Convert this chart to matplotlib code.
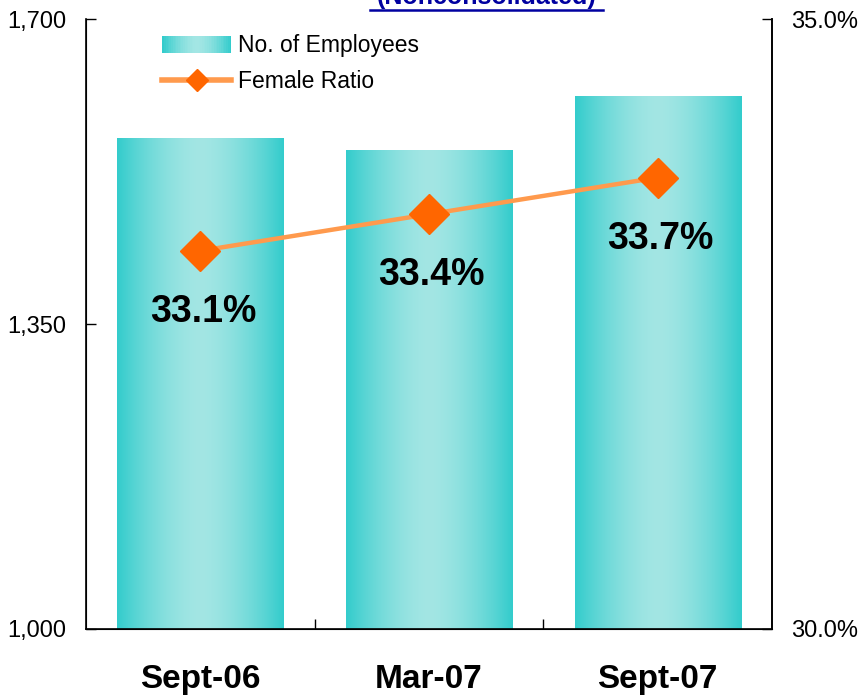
# Employees and female ratio (nonconsolidated)

import numpy as np
import matplotlib
matplotlib.use('Agg')
import matplotlib.pyplot as plt
from matplotlib.patches import Rectangle
from matplotlib.lines import Line2D
from matplotlib.legend_handler import HandlerBase
from matplotlib.ticker import FuncFormatter

plt.rcParams['font.family'] = ['Liberation Sans', 'DejaVu Sans']

# data
periods = ['Sept-06', 'Mar-07', 'Sept-07']
employees = [1563, 1550, 1612]
female_ratio = [33.1, 33.4, 33.7]
left_ticks = [1000, 1350, 1700]
right_ticks = [30.0, 35.0]

edge_col = np.array([51, 204, 204]) / 255
mid_col = np.array([163, 230, 228]) / 255


def gradient_row(n=200):
    t = np.linspace(0, 1, n)
    f = np.clip(1 - np.abs(2 * t - 1) ** 1.6, 0, 1)
    return edge_col[None, :] + (mid_col - edge_col)[None, :] * f[:, None]


class GradientHandler(HandlerBase):
    def create_artists(self, legend, orig_handle, xdescent, ydescent,
                       width, height, fontsize, trans):
        cols = gradient_row(40)
        w = width / len(cols)
        arts = []
        for i, c in enumerate(cols):
            r = Rectangle((-xdescent + i * w, -ydescent), w * 1.05, height,
                          facecolor=c, edgecolor='none', transform=trans)
            arts.append(r)
        return arts


fig = plt.figure(figsize=(8.59, 6.97), dpi=100)
ax = fig.add_axes([0.1001, 0.0976, 0.7986, 0.8751])

x = np.arange(len(periods))
bars = ax.bar(x, employees, width=0.727, color='none', edgecolor='none', zorder=2)
grad = gradient_row()[None, :, :]
for b in bars:
    im = ax.imshow(grad, aspect='auto', interpolation='bilinear', zorder=2,
                   extent=(b.get_x(), b.get_x() + b.get_width(), 1000, b.get_height()))
    im.set_clip_path(b)

ax.set_xlim(-0.5, len(periods) - 0.5)
ax.set_ylim(1000, 1700)
ax.set_yticks(left_ticks)
ax.yaxis.set_major_formatter(FuncFormatter(lambda v, p: f'{v:,.0f}'))
ax.set_xticks(x)
ax.set_xticklabels(periods, fontsize=24, fontweight='bold')
ax.set_xticks(x[:-1] + 0.5, minor=True)
ax.tick_params(axis='x', which='major', length=0, pad=25)
ax.tick_params(axis='x', which='minor', direction='in', length=7, width=1)
ax.tick_params(axis='y', direction='in', length=7, width=1, pad=14, labelsize=17)
ax.spines['top'].set_visible(False)
for s in ['left', 'bottom', 'right']:
    ax.spines[s].set_linewidth(1.2)

ax2 = ax.twinx()
ax2.set_ylim(30, 35)
ax2.set_yticks(right_ticks)
ax2.yaxis.set_major_formatter(FuncFormatter(lambda v, p: f'{v:.1f}%'))
ax2.tick_params(axis='y', direction='in', length=7, width=1, pad=14, labelsize=17)
ax2.spines['top'].set_visible(False)
ax2.spines['right'].set_linewidth(1.2)

ax2.plot(x, female_ratio, color='#FF9A4D', lw=3.2, zorder=3)
ax2.plot(x, female_ratio, ls='none', marker='D', markersize=20,
         color='#FF6600', zorder=4)
for xi, v in zip(x, female_ratio):
    ax2.annotate(f'{v:.1f}%', (xi, v), xytext=(2, -44), textcoords='offset points',
                 ha='center', va='center', fontsize=27, fontweight='bold')

# legend
h1 = Rectangle((0, 0), 1, 1)
h2 = Line2D([], [], color='#FF9A4D', lw=4, marker='D', markersize=11,
            markerfacecolor='#FF6600', markeredgecolor='#FF6600')
fig.legend([h1, h2], ['No. of Employees', 'Female Ratio'],
           handler_map={Rectangle: GradientHandler()},
           loc='upper left', bbox_to_anchor=(0.1785, 0.964), frameon=False,
           fontsize=16.5, handlelength=3.0, handleheight=0.8, handletextpad=0.3,
           labelspacing=0.56, borderaxespad=0)

# title (cut off at top)
fig.text(0.567, 0.9945, '(Nonconsolidated)', ha='center', va='baseline',
         fontsize=18, fontweight='bold', color='#0000A0')
fig.add_artist(Line2D([370 / 859, 603 / 859], [0.9857, 0.9857], color='#0000A0',
                      lw=1.8, transform=fig.transFigure))

fig.savefig('out.png', dpi=100)
